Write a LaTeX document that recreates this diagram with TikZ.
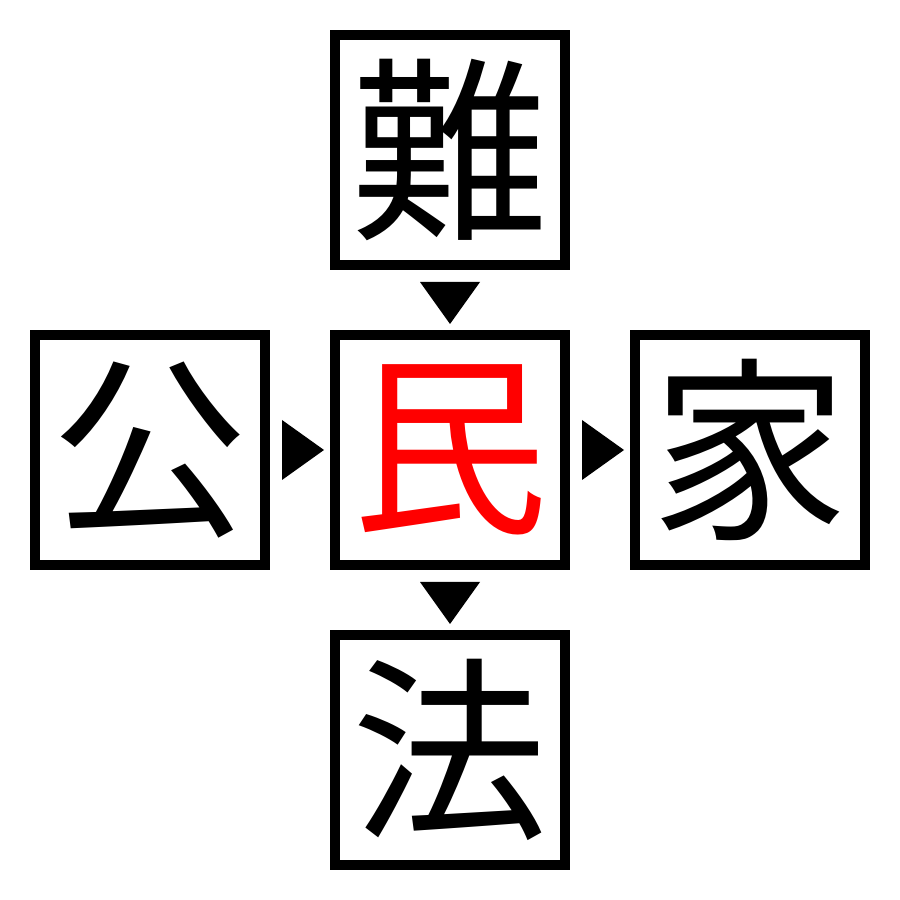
\documentclass[tikz,border=0pt]{standalone}
\usepackage{fontspec}
\newfontfamily\cjk{Noto Sans CJK JP}
\usetikzlibrary{calc}
\tikzset{kanji/.style={draw, line width=1mm, minimum size=2.3cm, inner sep=0pt, font=\cjk\fontsize{56}{56}\selectfont}}

\begin{document}
\begin{tikzpicture}
			%%%%% START %%%%%
			
			\useasboundingbox (0, 0) rectangle (9, 9);
			
			\node[kanji] (top) at (4.5, 7.5) {難};
			\node[kanji] (left) at (1.5, 4.5) {公};
			\node[kanji, text=red] (mid) at (4.5, 4.5) {民};
			\node[kanji] (right) at (7.5, 4.5) {家};
			\node[kanji] (bottom) at (4.5, 1.5) {法};
			
			\fill ($(top.south)+(-0.3, -0.12)$) -- ++(0.6, 0) -- ($(mid.north)+(0, 0.06)$) -- cycle;
			\fill ($(mid.south)+(-0.3, -0.12)$) -- ++(0.6, 0) -- ($(bottom.north)+(0, 0.06)$) -- cycle;
			\fill ($(left.east)+(0.12, 0.3)$) -- ++(0, -0.6) -- ($(mid.west)+(-0.06, 0)$) -- cycle;
			\fill ($(mid.east)+(0.12, 0.3)$) -- ++(0, -0.6) -- ($(right.west)+(-0.06, 0)$) -- cycle;
			
			%%%%% END %%%%%
		\end{tikzpicture}
\end{document}
